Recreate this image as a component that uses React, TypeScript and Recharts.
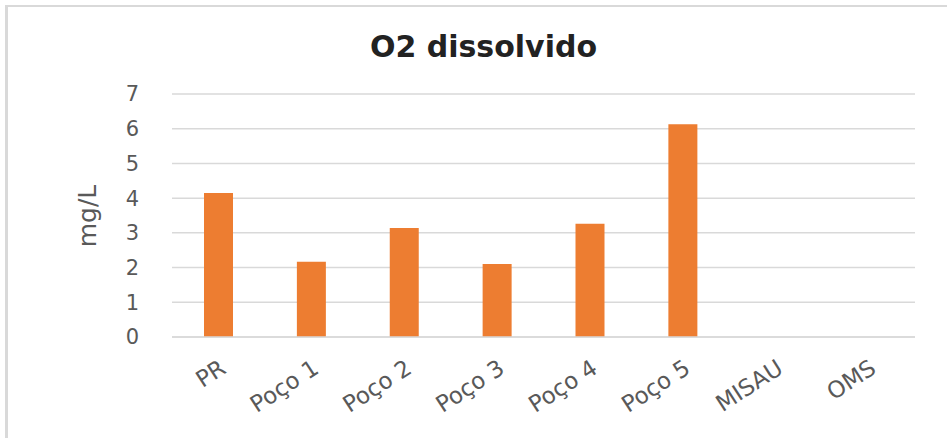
import { Bar, BarChart, CartesianGrid, XAxis, YAxis } from "recharts";

const CATEGORIES = ["PR", "Poço 1", "Poço 2", "Poço 3", "Poço 4", "Poço 5", "MISAU", "OMS"];
const O2_VALUES: (number | null)[] = [4.15, 2.17, 3.14, 2.1, 3.26, 6.13, null, null];
const Y_TICKS = [0, 1, 2, 3, 4, 5, 6, 7];

const data = CATEGORIES.map((name, i) => ({ name, o2: O2_VALUES[i] }));

const FONT = "'DejaVu Sans', sans-serif";

function XTick({ x, y, payload }: any) {
  const ax = x + 9;
  const ay = y + 35;
  return (
    <text
      x={ax}
      y={ay}
      transform={`rotate(-33, ${ax}, ${ay})`}
      textAnchor="end"
      fill="#595959"
      fontSize={23}
      fontFamily={FONT}
    >
      {payload.value}
    </text>
  );
}

export default function App() {
  return (
    <div
      style={{
        position: "absolute",
        left: 0,
        top: 0,
        width: 947,
        height: 438,
        overflow: "hidden",
        background: "#fff",
      }}
    >
      <div
        style={{
          position: "absolute",
          left: 5,
          top: 5,
          width: 960,
          height: 450,
          borderTop: "2px solid #d9d9d9",
          borderLeft: "3px solid #d9d9d9",
        }}
      />
      <div
        style={{
          position: "absolute",
          left: 10,
          top: 31,
          width: 947,
          textAlign: "center",
          fontFamily: FONT,
          fontWeight: "bold",
          fontSize: 30,
          lineHeight: "32px",
          color: "#222",
        }}
      >
        O2 dissolvido
      </div>
      <div
        style={{
          position: "absolute",
          left: 87,
          top: 216,
          transform: "translate(-50%, -50%) rotate(-90deg)",
          fontFamily: FONT,
          fontSize: 25,
          color: "#595959",
          whiteSpace: "nowrap",
        }}
      >
        mg/L
      </div>
      <BarChart
        width={947}
        height={438}
        data={data}
        margin={{ top: 94, right: 32, bottom: 0, left: 0 }}
        barSize={29}
        style={{ position: "absolute", left: 0, top: 0 }}
      >
        <CartesianGrid vertical={false} stroke="#d9d9d9" strokeWidth={1.5} />
        <XAxis
          dataKey="name"
          height={101}
          interval={0}
          tickLine={false}
          tickSize={0}
          tickMargin={0}
          axisLine={{ stroke: "#d9d9d9", strokeWidth: 1.5 }}
          tick={<XTick />}
        />
        <YAxis
          width={172}
          domain={[0, 7]}
          ticks={Y_TICKS}
          interval={0}
          axisLine={false}
          tickLine={false}
          tickSize={6}
          tickMargin={27}
          tick={{ fill: "#595959", fontSize: 21, fontFamily: FONT }}
        />
        <Bar dataKey="o2" fill="#ED7D31" isAnimationActive={false} />
      </BarChart>
    </div>
  );
}
